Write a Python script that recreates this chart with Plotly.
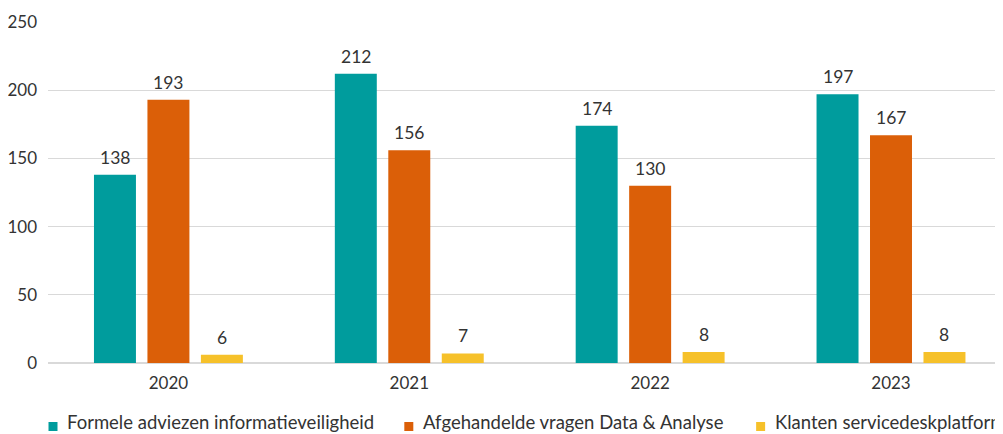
import plotly.graph_objects as go

years = ["2020", "2021", "2022", "2023"]
series_names = [
    "Formele adviezen informatieveiligheid",
    "Afgehandelde vragen Data & Analyse",
    "Klanten servicedeskplatform",
]
formele = [138, 212, 174, 197]
afgehandelde = [193, 156, 130, 167]
klanten = [6, 7, 8, 8]
colors = ["#009c9d", "#db5f08", "#f6c12a"]
y_ticks = [0, 50, 100, 150, 200, 250]

FONT = "Lato"
OFF = 8  # page body margin
W, H = 1003 - OFF, 434 - OFF
ML, MT = 47.5 - OFF, 22 - OFF
MB = H - (363 - OFF)
plot_w = W - ML
plot_h = H - MT - MB
BARGAP, GROUPGAP = 0.334, 0.215

fig = go.Figure()
all_series = [formele, afgehandelde, klanten]
n = len(all_series)
slot = (1 - BARGAP) / n
for k, (name, vals, col) in enumerate(zip(series_names, all_series, colors)):
    fig.add_trace(go.Bar(
        x=years, y=vals, name=name, marker=dict(color=col, line=dict(width=0)),
        showlegend=False,
    ))
    off = (k - (n - 1) / 2) * slot
    for i, v in enumerate(vals):
        fig.add_annotation(x=i + off, y=v, xref="x", yref="y", text=str(v),
                           showarrow=False, xanchor="center", yanchor="bottom",
                           yshift=6, borderpad=0,
                           font=dict(family=FONT, size=17.5, color="#333333"))

# custom legend (right item runs off the edge like the reference)
legend_px = [48, 404, 756]
for name, col, px in zip(series_names, colors, legend_px):
    px -= OFF
    def py(p):
        return (MT + plot_h - (p - OFF)) / plot_h
    fig.add_shape(type="rect", xref="paper", yref="paper",
                  x0=(px - ML) / plot_w, x1=(px + 9 - ML) / plot_w,
                  y0=py(431), y1=py(422),
                  fillcolor=col, line=dict(width=0))
    fig.add_annotation(xref="paper", yref="paper", x=(px + 18 - ML) / plot_w, y=py(434),
                       text=name, showarrow=False, xanchor="left", yanchor="bottom",
                       borderpad=0,
                       font=dict(family=FONT, size=18.5, color="#333333"))

fig.update_layout(
    width=W, height=H,
    margin=dict(l=ML, r=0, t=MT, b=MB, pad=0),
    plot_bgcolor="white", paper_bgcolor="white",
    barmode="group", bargap=BARGAP, bargroupgap=GROUPGAP,
    font=dict(family=FONT, size=16, color="#333333"),
    showlegend=False,
    xaxis=dict(range=[-0.5, 3.465], showgrid=False, showline=False, ticks="",
               tickfont=dict(family=FONT, size=17, color="#333333"), ticklabelstandoff=8),
    yaxis=dict(range=[0, 250], tickvals=y_ticks, showgrid=True, gridcolor="#d9d9d9",
               gridwidth=1, zeroline=True, zerolinecolor="#d9d9d9", zerolinewidth=2,
               showline=False, ticks="", ticklabelstandoff=10,
               tickfont=dict(family=FONT, size=17, color="#333333")),
)

fig.write_html("out.html")
